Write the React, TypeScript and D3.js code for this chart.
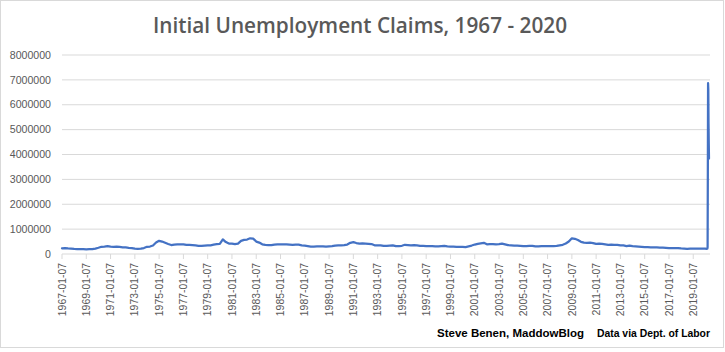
import React from 'react'
import * as d3 from 'd3'

const claims1960s = [230, 240, 225, 215, 205, 200, 200, 195, 190, 195, 200, 215]
const claims1970s = [
  250, 290, 300, 320, 295, 290, 295, 285, 270, 265, 250, 240, 215, 205, 215, 240,
  290, 300, 340, 460, 530, 500, 450, 400, 360, 380, 390, 390, 390, 370, 370, 360,
  350, 330, 330, 340, 350, 350, 380, 400
]
const claims1980s = [
  410, 590, 480, 420, 420, 400, 420, 530, 570, 580, 630, 620, 500, 460, 390, 370,
  360, 360, 380, 390, 390, 390, 390, 380, 370, 380, 380, 350, 340, 320, 300, 300,
  310, 310, 310, 300, 310, 320, 340, 350
]
const claims1990s = [
  350, 360, 380, 450, 480, 440, 420, 430, 420, 410, 400, 350, 350, 350, 330, 330,
  340, 350, 320, 320, 330, 370, 360, 350, 360, 350, 330, 330, 320, 320, 320, 310,
  310, 320, 330, 310, 300, 300, 290, 290
]
const claims2000s = [
  285, 280, 310, 340, 380, 410, 430, 450, 390, 400, 400, 390, 400, 420, 390, 360,
  350, 340, 340, 330, 320, 320, 330, 330, 310, 310, 320, 320, 320, 320, 320, 330,
  350, 370, 420, 500, 630, 610, 560, 490
]
const claims2010s = [
  460, 450, 460, 440, 410, 420, 410, 390, 370, 380, 370, 370, 350, 350, 320, 340,
  320, 310, 300, 290, 280, 280, 270, 270, 270, 260, 260, 250, 240, 240, 240, 240,
  225, 220, 210, 220, 215, 215, 215, 220
]
const firstYear = 1967

const weeks2020 = [
  '2020-01-04', '2020-02-01', '2020-03-07', '2020-03-14', '2020-03-21',
  '2020-03-28', '2020-04-04', '2020-04-11', '2020-04-18', '2020-04-25'
]
const claims2020 = [215, 210, 215, 282, 3307, 6867, 6615, 5237, 4442, 3839]

const yTicks = [0, 1000000, 2000000, 3000000, 4000000, 5000000, 6000000, 7000000, 8000000]
const xTickLabels = [
  '1967-01-07', '1969-01-07', '1971-01-07', '1973-01-07', '1975-01-07', '1977-01-07',
  '1979-01-07', '1981-01-07', '1983-01-07', '1985-01-07', '1987-01-07', '1989-01-07',
  '1991-01-07', '1993-01-07', '1995-01-07', '1997-01-07', '1999-01-07', '2001-01-07',
  '2003-01-07', '2005-01-07', '2007-01-07', '2009-01-07', '2011-01-07', '2013-01-07',
  '2015-01-07', '2017-01-07', '2019-01-07'
]

const W = 725
const H = 352
const left = 62
const right = 709
const top = 55
const bottom = 254

const parse = d3.timeParse('%Y-%m-%d')

export default function App() {
  const quarterly = [
    ...claims1960s, ...claims1970s, ...claims1980s,
    ...claims1990s, ...claims2000s, ...claims2010s
  ]
  const points: [Date, number][] = quarterly.map((v, i) => [
    new Date(firstYear + Math.floor(i / 4), (i % 4) * 3, 7),
    v * 1000
  ])
  weeks2020.forEach((w, i) => points.push([parse(w) as Date, claims2020[i] * 1000]))

  const x = d3
    .scaleTime()
    .domain([parse('1967-01-07') as Date, parse('2020-04-25') as Date])
    .range([left, right])
  const y = d3.scaleLinear().domain([0, 8000000]).range([bottom, top])

  const line = d3
    .line<[Date, number]>()
    .x(d => x(d[0]))
    .y(d => y(d[1]))

  const font = '"Liberation Sans", Arial, sans-serif'

  return (
    <svg
      width={W}
      height={H}
      style={{ position: 'absolute', left: 0, top: 0, background: '#fff' }}
    >
      <rect x={0.5} y={0.5} width={W - 2} height={H - 5} fill="#fff" stroke="#d9d9d9" />
      <text
        x={360}
        y={33}
        textAnchor="middle"
        fontFamily='"Open Sans", sans-serif'
        fontSize={22}
        fontWeight={600}
        fill="#595959"
        textLength={414}
        lengthAdjust="spacingAndGlyphs"
      >
        Initial Unemployment Claims, 1967 - 2020
      </text>

      {yTicks.map(t => (
        <g key={t}>
          {t > 0 && (
            <line x1={left} x2={right + 1} y1={y(t)} y2={y(t)} stroke="#d9d9d9" strokeWidth={1} />
          )}
          <text
            x={51}
            y={y(t)}
            dy="0.35em"
            textAnchor="end"
            fontFamily={font}
            fontSize={10.6}
            fill="#595959"
          >
            {t}
          </text>
        </g>
      ))}

      <line x1={left} x2={right + 1} y1={bottom} y2={bottom} stroke="#d9d9d9" strokeWidth={1} />
      {xTickLabels.map(l => {
        const px = x(parse(l) as Date)
        return (
          <g key={l}>
            <line x1={px} x2={px} y1={bottom} y2={bottom + 5} stroke="#d9d9d9" />
            <text
              transform={`translate(${px},263) rotate(-90)`}
              dy="0.35em"
              textAnchor="end"
              fontFamily={font}
              fontSize={10.4}
              fill="#595959"
            >
              {l}
            </text>
          </g>
        )
      })}

      <path
        d={line(points) || ''}
        fill="none"
        stroke="#4472c4"
        strokeWidth={2.25}
        strokeLinejoin="round"
        strokeLinecap="round"
      />

      <text x={437} y={337} fontFamily={font} fontSize={11} fontWeight="bold" fill="#000"
        textLength={147} lengthAdjust="spacingAndGlyphs">
        Steve Benen,  MaddowBlog
      </text>
      <text x={597} y={337} fontFamily={font} fontSize={11} fontWeight="bold" fill="#000"
        textLength={113} lengthAdjust="spacingAndGlyphs">
        Data via Dept. of Labor
      </text>
    </svg>
  )
}
